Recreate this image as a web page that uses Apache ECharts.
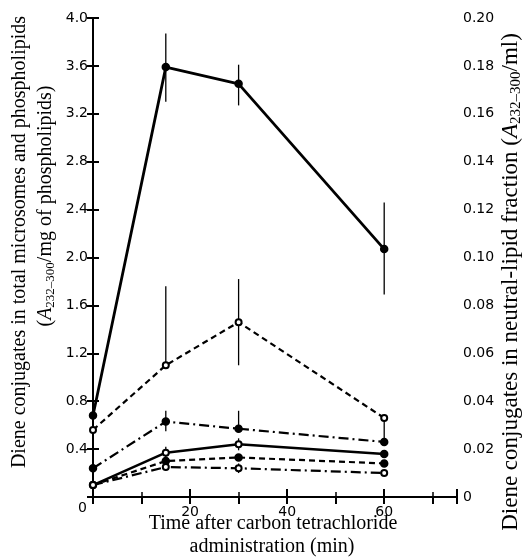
<!DOCTYPE html>
<html>
<head>
<meta charset="utf-8">
<script src="https://cdn.jsdelivr.net/npm/echarts@6/dist/echarts.min.js"></script>
<style>
  html, body { margin: 0; padding: 0; background: #fff; }
  #chart { width: 525px; height: 560px; }
</style>
</head>
<body>
<div id="chart"></div>
<script>
// time points (min)
var times = [0, 15, 30, 60]

// values in left-axis units (right axis = left / 20)
var totalSolid = [0.68, 3.59, 3.45, 2.07]
var totalDashed = [0.56, 1.10, 1.46, 0.66]
var totalDashDot = [0.24, 0.63, 0.57, 0.46]
var lowSolid = [0.10, 0.37, 0.44, 0.36]
var lowDashed = [0.10, 0.30, 0.33, 0.28]
var lowDashDot = [0.10, 0.25, 0.24, 0.20]

// error bars: [time, low, high]
var errSolid = [[15, 3.30, 3.87], [30, 3.27, 3.61], [60, 1.69, 2.46]]
var errDashed = [[15, 1.10, 1.76], [30, 1.10, 1.82]]
var errDashDot = [[15, 0.55, 0.72], [30, 0.57, 0.72], [60, 0.46, 0.65]]
var errLow = [[15, 0.32, 0.42], [30, 0.39, 0.49], [15, 0.22, 0.29], [30, 0.20, 0.28]]

var serif = 'Liberation Serif'
var sans = 'DejaVu Sans'

function pairs(vals) {
  return vals.map(function(v, i) { return [times[i], v] })
}

function lineSeries(vals, dash, hollow, width) {
  return {
    type: 'line',
    data: pairs(vals),
    symbol: hollow ? 'emptyCircle' : 'circle',
    symbolSize: hollow ? 6 : 7,
    clip: false,
    z: 3,
    lineStyle: { color: '#000', width: width || 2, type: dash },
    itemStyle: { color: '#000', borderColor: '#000', borderWidth: 1.5 }
  }
}

function errSeries(data) {
  return {
    type: 'custom',
    data: data,
    z: 2,
    renderItem: function(params, api) {
      var p1 = api.coord([api.value(0), api.value(1)])
      var p2 = api.coord([api.value(0), api.value(2)])
      return {
        type: 'line',
        shape: { x1: p1[0], y1: p1[1], x2: p2[0], y2: p2[1] },
        style: { stroke: '#000', lineWidth: 1.3 }
      }
    }
  }
}

var lowSolidSeries = lineSeries(lowSolid, 'solid', true, 2.5)
// last point of this line is filled
lowSolidSeries.data[3] = { value: [times[3], lowSolid[3]], symbol: 'circle', symbolSize: 7 }

var myChart = echarts.init(document.getElementById('chart'))
var option = {
  backgroundColor: '#fff',
  animation: false,
  grid: { left: 93, right: 68, top: 18, bottom: 63 },
  xAxis: [
    {
      type: 'value', min: 0, max: 75, interval: 20, position: 'bottom',
      axisLine: { lineStyle: { color: '#000', width: 2 } },
      axisTick: { inside: true, length: 8, lineStyle: { color: '#000', width: 2 } },
      minorTick: { show: true, splitNumber: 2, length: 5, lineStyle: { color: '#000', width: 1.5 } },
      axisLabel: {
        color: '#000', fontFamily: sans, fontSize: 14, margin: 8,
        showMaxLabel: false,
        formatter: function(v) { return (v === 0 || v > 70) ? '' : String(v) }
      },
      splitLine: { show: false }
    },
    {
      type: 'value', min: 0, max: 75, interval: 10, position: 'top',
      axisLine: { lineStyle: { color: '#000', width: 2 } },
      axisTick: { inside: true, length: 7, lineStyle: { color: '#000', width: 2 } },
      axisLabel: { show: false },
      splitLine: { show: false }
    }
  ],
  yAxis: [
    {
      type: 'value', min: 0, max: 4, interval: 0.4, position: 'left',
      axisLine: { show: true, lineStyle: { color: '#000', width: 2 } },
      axisTick: { show: true, inside: true, length: 6, lineStyle: { color: '#000', width: 2 } },
      axisLabel: {
        color: '#000', fontFamily: sans, fontSize: 14, margin: 5,
        formatter: function(v) { return v === 0 ? '' : v.toFixed(1) }
      },
      splitLine: { show: false }
    },
    {
      type: 'value', min: 0, max: 0.2, interval: 0.02, position: 'right',
      axisLine: { show: true, lineStyle: { color: '#000', width: 2 } },
      axisTick: { show: true, inside: true, length: 6, lineStyle: { color: '#000', width: 2 } },
      axisLabel: {
        color: '#000', fontFamily: sans, fontSize: 14, margin: 6,
        formatter: function(v) { return v === 0 ? '0' : v.toFixed(2) }
      },
      splitLine: { show: false }
    }
  ],
  graphic: [
    { type: 'text', left: 78, top: 501, style: { text: '0', fill: '#000', font: '14px ' + sans } },
    {
      type: 'text', x: 20, y: 242, rotation: Math.PI / 2,
      style: {
        text: 'Diene conjugates in total microsomes and phospholipids',
        fill: '#000', font: '20px ' + serif, textAlign: 'center', textVerticalAlign: 'middle'
      }
    },
    {
      type: 'text', x: 46, y: 206, rotation: Math.PI / 2,
      style: {
        text: '({i|A}{sub|232–300}/mg of phospholipids)',
        fill: '#000', font: '20px ' + serif, textAlign: 'center', textVerticalAlign: 'middle',
        rich: {
          i: { fontStyle: 'italic', fontSize: 20, fontFamily: serif },
          sub: { fontSize: 13, fontFamily: serif, padding: [9, 0, 0, 0] }
        }
      }
    },
    {
      type: 'text', x: 511, y: 282, rotation: Math.PI / 2,
      style: {
        text: 'Diene conjugates in neutral-lipid fraction ({i|A}{sub|232–300}/ml)',
        fill: '#000', font: '23px ' + serif, textAlign: 'center', textVerticalAlign: 'middle',
        rich: {
          i: { fontStyle: 'italic', fontSize: 23, fontFamily: serif },
          sub: { fontSize: 15, fontFamily: serif, padding: [10, 0, 0, 0] }
        }
      }
    },
    {
      type: 'text', x: 273, y: 524,
      style: {
        text: 'Time after carbon tetrachloride',
        fill: '#000', font: '20px ' + serif, textAlign: 'center', textVerticalAlign: 'middle'
      }
    },
    {
      type: 'text', x: 272, y: 547,
      style: {
        text: 'administration (min)',
        fill: '#000', font: '20px ' + serif, textAlign: 'center', textVerticalAlign: 'middle'
      }
    }
  ],
  series: [
    lineSeries(totalSolid, 'solid', false, 2.8),
    lineSeries(totalDashed, [6, 4], true, 2.2),
    lineSeries(totalDashDot, [10, 4, 2, 4], false, 2.2),
    lowSolidSeries,
    lineSeries(lowDashed, [6, 4], false, 2.2),
    lineSeries(lowDashDot, [10, 4, 2, 4], true, 2.2),
    errSeries(errSolid),
    errSeries(errDashed),
    errSeries(errDashDot),
    errSeries(errLow)
  ]
}
myChart.setOption(option, true)
</script>
</body>
</html>
